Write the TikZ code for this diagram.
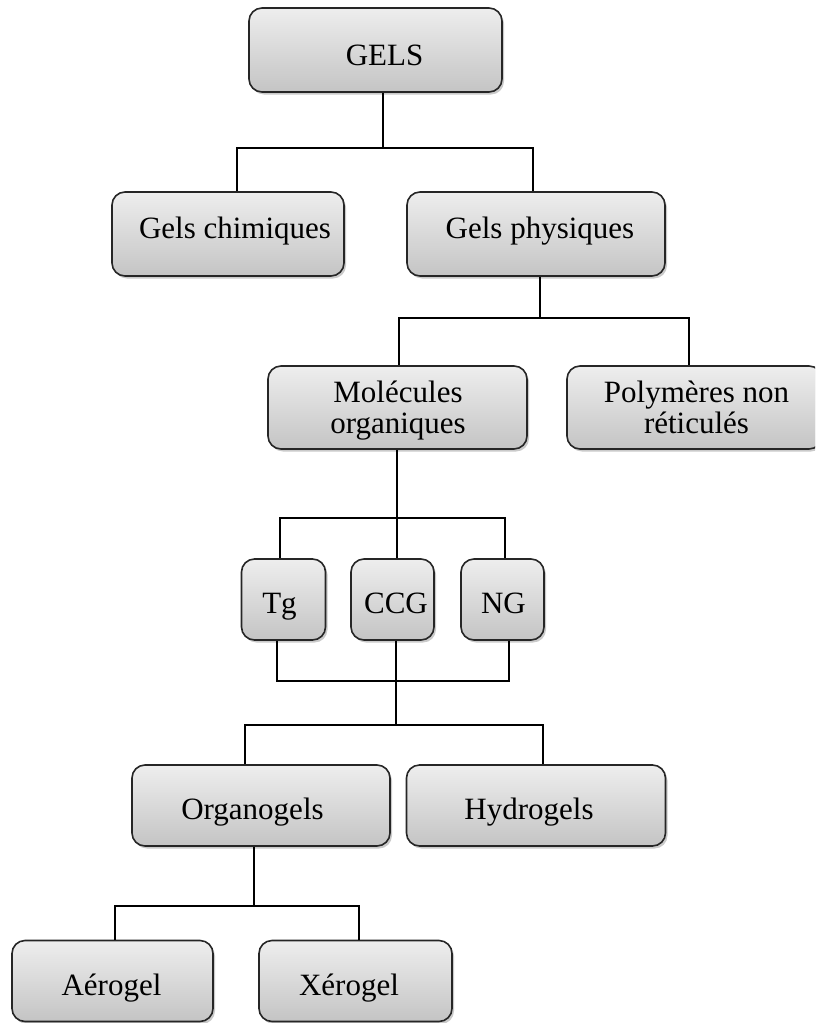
\documentclass[tikz,border=0pt]{standalone}
\usepackage{fontspec}
\setmainfont{Liberation Serif}
\usetikzlibrary{shadows}
% place a text with its baseline dy below the node centre, shifted dx to the right
\newcommand\boxtext[3]{\raisebox{-#2}[0pt][0pt]{\hspace*{#1}#3\hspace*{-#1}}}
\newcommand\twolines[2]{\begin{tabular}[b]{@{}c@{}}#1\\#2\end{tabular}}
\tikzset{
  box/.style={draw=black!85, line width=1.6pt, rounded corners=13pt,
    top color={rgb,255:red,238;green,238;blue,238},
    bottom color={rgb,255:red,196;green,196;blue,196},
    drop shadow={shadow xshift=2pt, shadow yshift=-2.5pt, opacity=0.35, fill=black!60},
    inner sep=0pt,
    font=\fontsize{31}{31}\selectfont},
  link/.style={draw=black, line width=1.4pt}
}
\begin{document}
\begin{tikzpicture}[x=1pt,y=-1pt]
\useasboundingbox (0,0) rectangle (815,1023);
\clip (0,0) rectangle (815,1023);
% boxes
\node[box, minimum width=253pt, minimum height=84pt] (gels) at (375.5,50) {\boxtext{9pt}{15pt}{GELS}};
\node[box, minimum width=232pt, minimum height=84pt] (chim) at (228,234) {\boxtext{7pt}{4pt}{Gels chimiques}};
\node[box, minimum width=258pt, minimum height=84pt] (phys) at (536,234) {\boxtext{4pt}{4pt}{Gels physiques}};
\node[box, minimum width=259pt, minimum height=83pt] (mol) at (397.5,407.5) {\boxtext{0.5pt}{25.5pt}{\twolines{Molécules}{organiques}}};
\node[box, minimum width=255pt, minimum height=83pt] (poly) at (694.5,407.5) {\boxtext{2pt}{25.5pt}{\twolines{Polymères non}{réticulés}}};
\node[box, minimum width=84pt, minimum height=81pt] (tg) at (283.5,599.5) {\boxtext{-4pt}{13.5pt}{Tg}};
\node[box, minimum width=83pt, minimum height=81pt] (ccg) at (392.5,599.5) {\boxtext{3.5pt}{13.5pt}{CCG}};
\node[box, minimum width=83pt, minimum height=81pt] (ng) at (502.5,599.5) {\boxtext{1pt}{13.5pt}{NG}};
\node[box, minimum width=258pt, minimum height=81pt] (org) at (261,805.5) {\boxtext{-8.5pt}{13.5pt}{Organogels}};
\node[box, minimum width=259pt, minimum height=81pt] (hyd) at (536,805.5) {\boxtext{-7pt}{13.5pt}{Hydrogels}};
\node[box, minimum width=201pt, minimum height=81pt] (aer) at (112.5,981) {\boxtext{-1pt}{14pt}{Aérogel}};
\node[box, minimum width=193pt, minimum height=81pt] (xer) at (355.5,981) {\boxtext{-6.5pt}{14pt}{Xérogel}};
% bus coordinates
\coordinate (b1) at (383,148);
\coordinate (b2) at (540,318);
\coordinate (b3) at (397,518);
\coordinate (b4) at (396,681);
\coordinate (b5) at (396,725);
\coordinate (b6) at (254,906);
% connectors
\draw[link] (gels.south -| b1) -- (b1);
\draw[link] (chim.north -| 237,0) |- (b1) -| (phys.north -| 533,0);
\draw[link] (phys.south -| b2) -- (b2);
\draw[link] (mol.north -| 399,0) |- (b2) -| (poly.north -| 689,0);
\draw[link] (mol.south -| b3) -- (b3);
\draw[link] (tg.north -| 280,0) |- (b3) -| (ng.north -| 505,0);
\draw[link] (b3) -- (ccg.north -| b3);
\draw[link] (tg.south -| 277,0) |- (b4) -| (ng.south -| 509,0);
\draw[link] (ccg.south -| b4) -- (b5);
\draw[link] (org.north -| 245,0) |- (b5) -| (hyd.north -| 543,0);
\draw[link] (org.south -| b6) -- (b6);
\draw[link] (aer.north -| 115,0) |- (b6) -| (xer.north -| 359,0);
\end{tikzpicture}
\end{document}
